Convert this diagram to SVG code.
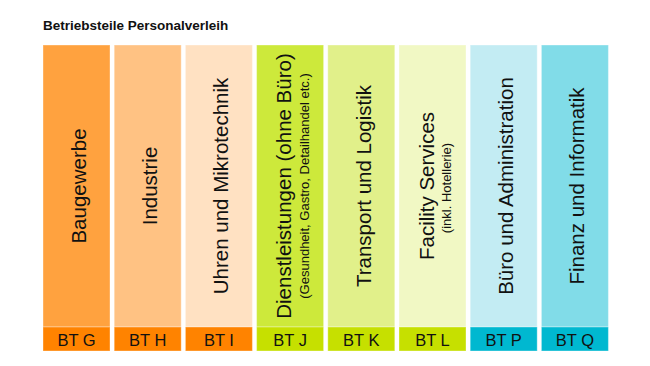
<svg xmlns="http://www.w3.org/2000/svg" width="650" height="366" viewBox="0 0 650 366">
<style>
text{font-family:"Liberation Sans",Arial,Helvetica,sans-serif;fill:#111}
.title{font-size:13.5px;font-weight:bold}
.main{font-size:20.5px;text-anchor:middle}
.sub{font-size:13px;text-anchor:middle}
.bt{font-size:16.5px;text-anchor:middle}
.col{stroke:#ffffff;stroke-opacity:0.35;stroke-width:1}
</style>
<rect width="650" height="366" fill="#ffffff"/>
<text class="title" x="43" y="30">Betriebsteile Personalverleih</text>

<g id="bt-g">
<rect class="col" x="43" y="45" width="67" height="282" fill="#FFA23F"/>
<rect class="col" x="43" y="327" width="67" height="24" fill="#FF8300"/>
<text class="main" transform="translate(86,186) rotate(-90)">Baugewerbe</text>
<text class="bt" x="76.5" y="345.5">BT G</text>
</g>
<g id="bt-h">
<rect class="col" x="114.2" y="45" width="67" height="282" fill="#FFC283"/>
<rect class="col" x="114.2" y="327" width="67" height="24" fill="#FF8300"/>
<text class="main" transform="translate(157.2,186) rotate(-90)">Industrie</text>
<text class="bt" x="147.7" y="345.5">BT H</text>
</g>
<g id="bt-i">
<rect class="col" x="185.4" y="45" width="67" height="282" fill="#FFE1C2"/>
<rect class="col" x="185.4" y="327" width="67" height="24" fill="#FF8300"/>
<text class="main" transform="translate(228.4,186) rotate(-90)">Uhren und Mikrotechnik</text>
<text class="bt" x="218.9" y="345.5">BT I</text>
</g>
<g id="bt-j">
<rect class="col" x="256.6" y="45" width="67" height="282" fill="#CDE93B"/>
<rect class="col" x="256.6" y="327" width="67" height="24" fill="#C6E000"/>
<text class="main" transform="translate(291.3,186) rotate(-90)">Dienstleistungen (ohne Büro)</text>
<text class="sub" transform="translate(309,186) rotate(-90)">(Gesundheit, Gastro, Detailhandel etc.)</text>
<text class="bt" x="290.1" y="345.5">BT J</text>
</g>
<g id="bt-k">
<rect class="col" x="327.8" y="45" width="67" height="282" fill="#E1F08A"/>
<rect class="col" x="327.8" y="327" width="67" height="24" fill="#C6E000"/>
<text class="main" transform="translate(370.8,186) rotate(-90)">Transport und Logistik</text>
<text class="bt" x="361.3" y="345.5">BT K</text>
</g>
<g id="bt-l">
<rect class="col" x="399" y="45" width="67" height="282" fill="#F1F8C4"/>
<rect class="col" x="399" y="327" width="67" height="24" fill="#C6E000"/>
<text class="main" transform="translate(433.5,186) rotate(-90)">Facility Services</text>
<text class="sub" transform="translate(451.2,188) rotate(-90)">(inkl. Hotellerie)</text>
<text class="bt" x="432.5" y="345.5">BT L</text>
</g>
<g id="bt-p">
<rect class="col" x="470.2" y="45" width="67" height="282" fill="#C3ECF3"/>
<rect class="col" x="470.2" y="327" width="67" height="24" fill="#00B8D0"/>
<text class="main" transform="translate(513.2,186) rotate(-90)">Büro und Administration</text>
<text class="bt" x="503.7" y="345.5">BT P</text>
</g>
<g id="bt-q">
<rect class="col" x="541.4" y="45" width="67" height="282" fill="#81DCE8"/>
<rect class="col" x="541.4" y="327" width="67" height="24" fill="#00B8D0"/>
<text class="main" transform="translate(584.4,186) rotate(-90)">Finanz und Informatik</text>
<text class="bt" x="574.9" y="345.5">BT Q</text>
</g>
</svg>
